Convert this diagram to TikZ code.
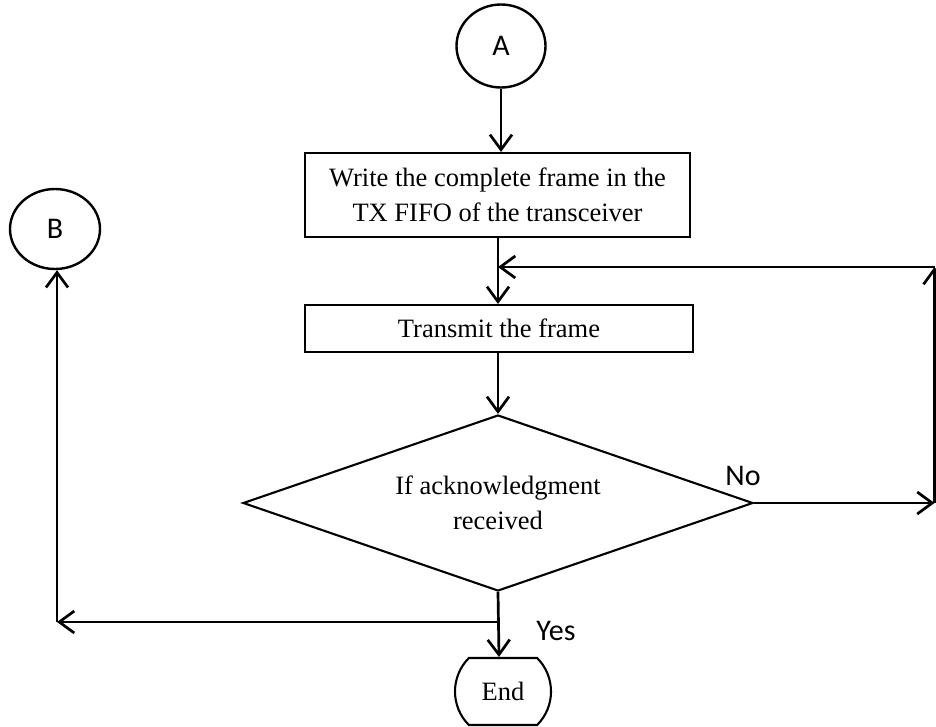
\documentclass[tikz,border=0pt]{standalone}
\usepackage{fontspec}
\setmainfont{Liberation Serif}
\newfontfamily\lblfont{Carlito}
\usetikzlibrary{shapes.geometric,shapes.misc,arrows.meta}
\begin{document}
\begin{tikzpicture}[x=1pt,y=-1pt,
  conn/.style={draw,line width=2.7pt,-{Straight Barb[length=15pt,width=22pt]}},
  boxnode/.style={draw,line width=2.1pt,rectangle,inner sep=0pt,align=center,font=\fontsize{26.5}{35}\selectfont},
  circnode/.style={draw,line width=2.4pt,ellipse,inner sep=0pt,font=\lblfont\fontsize{30}{32}\selectfont},
  lbl/.style={font=\lblfont\fontsize{30}{32}\selectfont,inner sep=0pt}]
\useasboundingbox (0,0) rectangle (936,726);
\node[circnode,minimum width=89pt,minimum height=83pt] (A) at (501,46) {A};
\node[circnode,minimum width=90pt,minimum height=80pt] (B) at (55,229) {B};
\node[boxnode,minimum width=385pt,minimum height=84pt] (box1) at (497.5,195) {Write the complete frame in the\\TX FIFO of the transceiver};
\node[boxnode,minimum width=388pt,minimum height=47pt] (box2) at (499,328.5) {Transmit the frame};
\node[draw,line width=2.1pt,diamond,aspect=2.9,inner sep=0pt,minimum width=510pt,minimum height=176pt,align=center,font=\fontsize{26.5}{35}\selectfont] (dec) at (498,503) {If acknowledgment\\received};
\node[draw,line width=2.1pt,rounded rectangle,rounded rectangle arc length=90,minimum width=96pt,minimum height=67pt,inner sep=0pt,font=\fontsize{26.5}{30}\selectfont] (end) at (503,691.5) {End};
\coordinate (j1) at (498,267);
\coordinate (r1) at (934.5,503);
\coordinate (r2) at (934.5,267);
\coordinate (j2) at (499,622);
\coordinate (l1) at (57,622);
\draw[conn] (A.south) -- (A.south |- box1.north);
\draw[conn] (j1 |- box1.south) -- (j1 |- box2.north);
\draw[conn] (box2.south -| dec.north) -- (dec.north);
\draw[conn] (dec.east) -- (r1);
\draw[conn] (r1) -- (r2);
\draw[conn] (r2) -- (j1);
\draw[conn] (dec.south) -- (j2 |- end.north);
\draw[conn] (j2) -- (l1);
\draw[conn] (l1) -- (l1 |- B.south);
\node[lbl] (no) at (743,476) {No};
\node[lbl] (yes) at (556,631) {Yes};
\end{tikzpicture}
\end{document}
